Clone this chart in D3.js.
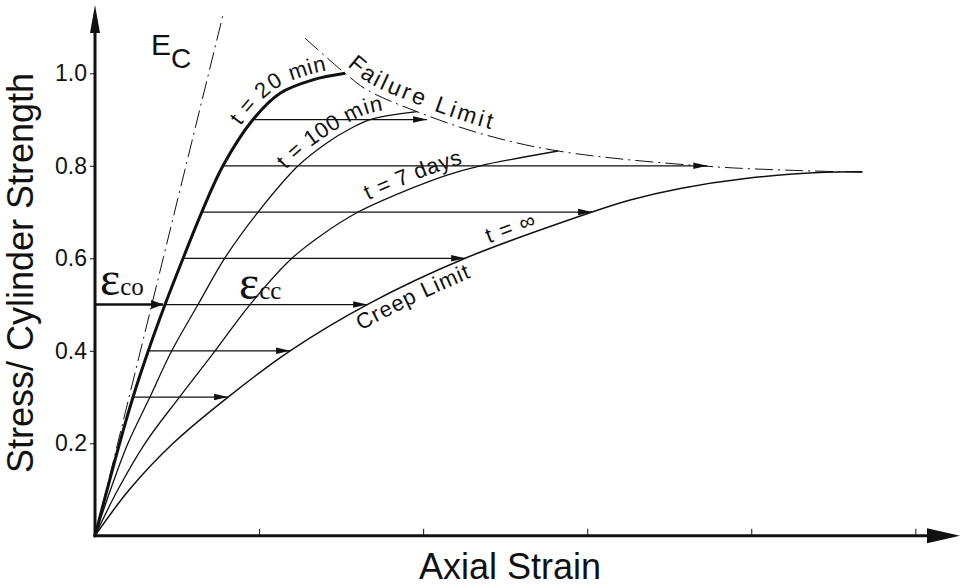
<!DOCTYPE html>
<html>
<head>
<meta charset="utf-8">
<script src="https://cdn.jsdelivr.net/npm/d3@7"></script>
<style>
  body { margin: 0; background: #fff; }
  text { font-family: "Liberation Sans", Arial, sans-serif; fill: #111; }
</style>
</head>
<body>
<div id="chart"></div>
<script>
// stress / strength levels and strain readings (strain in tick units)
var curve20_strain = [0, 0.15, 0.232, 0.325, 0.427, 0.537, 0.651, 0.78, 0.963, 1.128, 1.329, 1.524];
var curve20_stress = [0, 0.2, 0.3, 0.4, 0.5, 0.6, 0.7, 0.8, 0.9, 0.957, 0.986, 1.0];

var curve100_strain = [0, 0.095, 0.201, 0.335, 0.468, 0.628, 0.79, 0.994, 1.238, 1.415, 1.555, 1.677, 1.963];
var curve100_stress = [0, 0.1, 0.2, 0.3, 0.4, 0.5, 0.6, 0.7, 0.8, 0.85, 0.88, 0.9, 0.917];

var curve7d_strain = [0, 0.14, 0.305, 0.515, 0.732, 0.945, 1.2, 1.38, 1.604, 1.92, 2.146, 2.348, 2.823];
var curve7d_stress = [0, 0.1, 0.2, 0.3, 0.4, 0.5, 0.6, 0.65, 0.7, 0.75, 0.78, 0.8, 0.832];

var creep_strain = [0, 0.21, 0.476, 0.811, 1.189, 1.659, 2.256, 3.03, 3.262, 3.567, 3.976, 4.45, 4.677];
var creep_stress = [0, 0.1, 0.2, 0.3, 0.4, 0.5, 0.6, 0.7, 0.726, 0.751, 0.773, 0.786, 0.787];

var failure_strain = [1.28, 1.524, 1.659, 1.963, 2.348, 2.823, 3.768, 4.677];
var failure_stress = [1.076, 1.0, 0.964, 0.917, 0.87, 0.832, 0.798, 0.786];

var ec_strain = [0, 0.78];
var ec_stress = [0, 1.126];

// horizontal creep arrows
var arrow_stress = [0.3, 0.4, 0.5, 0.6, 0.7, 0.8, 0.9];
var arrow_from = [0.232, 0.325, 0.427, 0.537, 0.651, 0.78, 0.963];
var arrow_to = [0.811, 1.189, 1.659, 2.256, 3.03, 3.732, 2.024];

var eco_stress = 0.5;
var eco_to = 0.415;

var yTicks = [0.2, 0.4, 0.6, 0.8, 1.0];
var xTicks = [1, 2, 3, 4, 5];

var width = 961, height = 586;

var svg = d3.select("#chart")
  .append("svg")
    .attr("width", width)
    .attr("height", height);

var x = d3.scaleLinear().domain([0, 5.26]).range([95, 958]);
var y = d3.scaleLinear().domain([0, 1]).range([535.8, 73.3]);

// arrow markers
var defs = svg.append("defs");
defs.append("marker")
    .attr("id", "head")
    .attr("markerUnits", "userSpaceOnUse")
    .attr("markerWidth", 15).attr("markerHeight", 8)
    .attr("refX", 14).attr("refY", 4)
    .attr("orient", "auto")
  .append("path")
    .attr("d", "M0,0.8 L14,4 L0,7.2 Z")
    .attr("fill", "#111");
defs.append("marker")
    .attr("id", "headBig")
    .attr("markerUnits", "userSpaceOnUse")
    .attr("markerWidth", 14).attr("markerHeight", 12)
    .attr("refX", 12).attr("refY", 6)
    .attr("orient", "auto")
  .append("path")
    .attr("d", "M0,1.5 L12,6 L0,10.5 Z")
    .attr("fill", "#111");

var line = d3.line()
    .x(function(d) { return x(d[0]); })
    .y(function(d) { return y(d[1]); })
    .curve(d3.curveCatmullRom.alpha(0.5));

// axes ticks
var yAxis = svg.append("g")
    .attr("transform", "translate(" + x(0) + ",0)")
    .call(d3.axisLeft(y).tickValues(yTicks).tickSize(5).tickPadding(3).tickFormat(d3.format(".1f")));
yAxis.select(".domain").remove();
yAxis.selectAll("text").style("font-size", "23px").attr("fill", "#111");
yAxis.selectAll("line").attr("stroke", "#111");

var xAxis = svg.append("g")
    .attr("transform", "translate(0," + y(0) + ")")
    .call(d3.axisTop(x).tickValues(xTicks).tickSize(7).tickFormat(""));
xAxis.select(".domain").remove();
xAxis.selectAll("line").attr("stroke", "#111");

// Ec tangent and failure limit (dash dot)
svg.append("path")
    .attr("d", line(d3.zip(ec_strain, ec_stress)))
    .attr("fill", "none").attr("stroke", "#111").attr("stroke-width", 1)
    .attr("stroke-dasharray", "18,5,2,5");

svg.append("path")
    .attr("id", "failure")
    .attr("d", line(d3.zip(failure_strain, failure_stress)))
    .attr("fill", "none").attr("stroke", "#111").attr("stroke-width", 1)
    .attr("stroke-dasharray", "18,5,2,5");

// creep arrows
svg.append("g")
  .selectAll("line")
  .data(arrow_stress)
  .enter()
  .append("line")
    .attr("x1", function(d, i) { return x(arrow_from[i]); })
    .attr("x2", function(d, i) { return x(arrow_to[i]); })
    .attr("y1", function(d) { return y(d); })
    .attr("y2", function(d) { return y(d); })
    .attr("stroke", "#111").attr("stroke-width", 1.3)
    .attr("marker-end", "url(#head)");

svg.append("line")
    .attr("x1", x(0)).attr("x2", x(eco_to))
    .attr("y1", y(eco_stress)).attr("y2", y(eco_stress))
    .attr("stroke", "#111").attr("stroke-width", 2.6)
    .attr("marker-end", "url(#headBig)");

// curves
var curves = [
  {id: "c20", s: curve20_strain, v: curve20_stress, w: 3},
  {id: "c100", s: curve100_strain, v: curve100_stress, w: 1.3},
  {id: "c7d", s: curve7d_strain, v: curve7d_stress, w: 1.3},
  {id: "creep", s: creep_strain, v: creep_stress, w: 1.5}
];
svg.append("g")
  .selectAll("path")
  .data(curves)
  .enter()
  .append("path")
    .attr("id", function(d) { return d.id; })
    .attr("d", function(d) { return line(d3.zip(d.s, d.v)); })
    .attr("fill", "none")
    .attr("stroke", "#111")
    .attr("stroke-width", function(d) { return d.w; });

// axis lines with arrows
svg.append("line")
    .attr("x1", x(0)).attr("x2", x(0))
    .attr("y1", y(0) + 1.5).attr("y2", 30)
    .attr("stroke", "#111").attr("stroke-width", 3);
svg.append("path")
    .attr("d", "M" + x(0) + ",5 L" + (x(0) - 5) + ",33 L" + (x(0) + 5) + ",33 Z")
    .attr("fill", "#111");
svg.append("line")
    .attr("x1", x(0) - 1.5).attr("x2", 930)
    .attr("y1", y(0)).attr("y2", y(0))
    .attr("stroke", "#111").attr("stroke-width", 3);
svg.append("path")
    .attr("d", "M960," + y(0) + " L927," + (y(0) - 7.5) + " L927," + (y(0) + 7.5) + " Z")
    .attr("fill", "#111");

// curve labels along paths
var labels = [
  {path: "c20", text: "t = 20 min", off: "78.5%", dy: -6, size: 22, sp: 0.5},
  {path: "c100", text: "t = 100 min", off: "74%", dy: -6, size: 22, sp: 0.3},
  {path: "c7d", text: "t = 7 days", off: "69%", dy: -6, size: 22, sp: 0.5},
  {path: "creep", text: "Creep Limit", off: "39%", dy: 20, size: 22, sp: 1.2},
  {path: "creep", text: "t = \u221E", off: "56.5%", dy: -5, size: 22, sp: 1},
  {path: "failure", text: "Failure Limit", off: "8.5%", dy: -7, size: 23, sp: 3}
];
labels.forEach(function(l) {
  svg.append("text")
      .attr("dy", l.dy)
      .style("font-size", l.size + "px")
      .style("letter-spacing", l.sp + "px")
    .append("textPath")
      .attr("href", "#" + l.path)
      .attr("startOffset", l.off)
      .text(l.text);
});

// Ec label
var ec = svg.append("text").attr("x", 151).attr("y", 55).style("font-size", "30px");
ec.append("tspan").text("E");
ec.append("tspan").attr("dy", 13).style("font-size", "28px").text("C");

// strain labels
function epsLabel(px, py, sub) {
  var t = svg.append("text").attr("x", px).attr("y", py)
      .style("font-family", "'Liberation Serif', 'Times New Roman', serif");
  t.append("tspan").style("font-size", "48px").text("\u03B5");
  t.append("tspan").style("font-size", "25px").text(sub);
}
epsLabel(100, 295, "co");
epsLabel(239, 299, "cc");

// axis titles
svg.append("text")
    .attr("transform", "translate(33,273) rotate(-90)")
    .attr("text-anchor", "middle")
    .style("font-size", "36px")
    .text("Stress/ Cylinder Strength");

svg.append("text")
    .attr("x", 510).attr("y", 579)
    .attr("text-anchor", "middle")
    .style("font-size", "36px")
    .text("Axial Strain");
</script>
</body>
</html>
